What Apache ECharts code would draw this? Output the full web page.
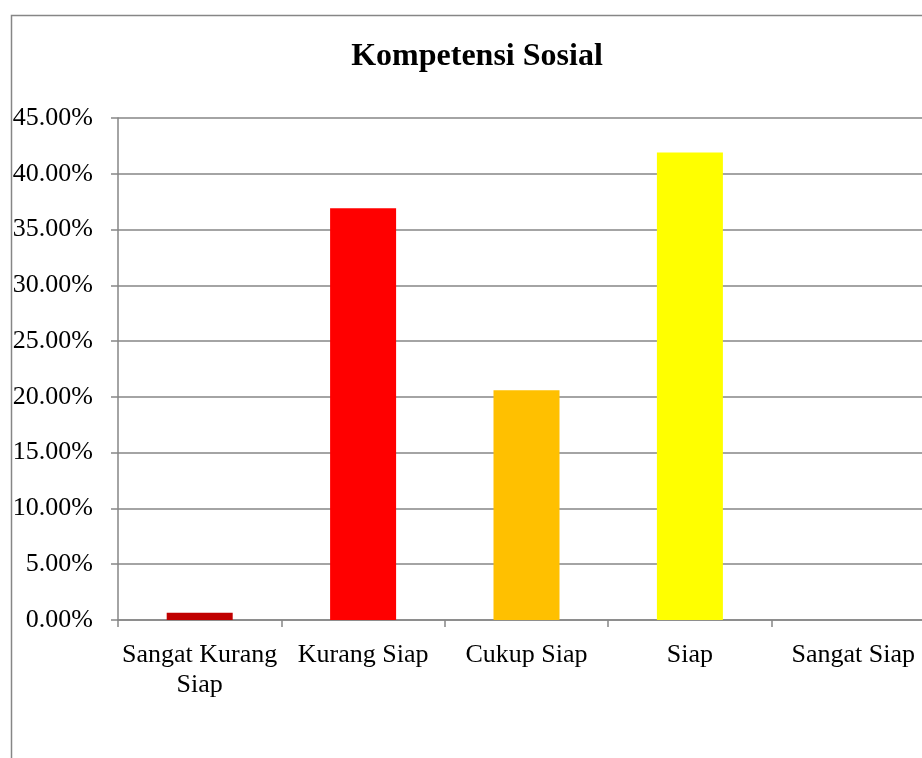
<!DOCTYPE html>
<html>
<head>
<meta charset="utf-8">
<script src="https://cdn.jsdelivr.net/npm/echarts@6/dist/echarts.min.js"></script>
<style>
  html, body { margin: 0; padding: 0; background: #fff; }
  #chart { width: 922px; height: 758px; }
</style>
</head>
<body>
<div id="chart"></div>
<script>
// 类别与数值
const categories = ['Sangat Kurang\nSiap', 'Kurang Siap', 'Cukup Siap', 'Siap', 'Sangat Siap'];
const values = [0.65, 36.9, 20.6, 41.9, 0];
const barColors = ['#C00000', '#FF0000', '#FFC000', '#FFFF00', '#92D050'];

const chartInstance = echarts.init(document.getElementById('chart'));

const option = {
  animation: false,
  backgroundColor: '#fff',
  textStyle: { fontFamily: 'Liberation Serif' },
  title: {
    text: 'Kompetensi Sosial',
    left: 472,
    textAlign: 'center',
    top: 36,
    textStyle: { fontFamily: 'Liberation Serif', fontSize: 32, fontWeight: 'bold', color: '#000' }
  },
  // 外框
  graphic: [
    {
      type: 'rect',
      left: 9, top: 13,
      shape: { width: 1000, height: 1000 },
      style: { fill: 'none', stroke: '#868686', lineWidth: 1.5 }
    }
  ],
  grid: { left: 118, right: -13, top: 118, bottom: 138, outerBoundsMode: 'none', containLabel: false },
  xAxis: {
    type: 'category',
    data: categories,
    axisLine: { lineStyle: { color: '#868686', width: 1.5 } },
    axisTick: { show: true, length: 7, lineStyle: { color: '#868686', width: 1.5 } },
    axisLabel: { color: '#000', fontSize: 26, margin: 20, lineHeight: 30, interval: 0 }
  },
  yAxis: {
    type: 'value',
    min: 0, max: 45, interval: 5,
    axisLine: { show: true, lineStyle: { color: '#868686', width: 1.5 } },
    axisTick: { show: true, length: 7, lineStyle: { color: '#868686', width: 1.5 } },
    splitLine: { lineStyle: { color: '#868686', width: 1.5 } },
    axisLabel: {
      color: '#000', fontSize: 26, margin: 25,
      formatter: v => v.toFixed(2) + '%'
    }
  },
  series: [{
    type: 'bar',
    barWidth: 66,
    data: values.map((v, i) => ({ value: v, itemStyle: { color: barColors[i] } }))
  }]
};

chartInstance.setOption(option);
</script>
</body>
</html>
